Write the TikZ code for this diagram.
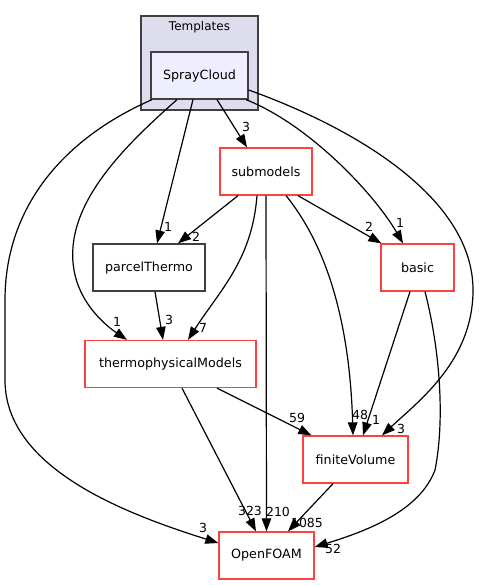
\documentclass[tikz,border=0pt]{standalone}
\usepackage{fontspec}
\setmainfont{DejaVu Sans}
\usetikzlibrary{arrows.meta,calc}
\definecolor{clfill}{HTML}{DDDDEE}
\definecolor{spfill}{HTML}{EEEEFF}
\definecolor{dkgray}{HTML}{404040}
\definecolor{boxred}{HTML}{FF4040}
\tikzset{
  dirbox/.style={draw=boxred, line width=1.3, fill=white, minimum height=47, inner sep=0, font=\fontsize{12.7}{15}\selectfont},
  plainbox/.style={draw=dkgray, line width=1.3, fill=white, minimum height=47, inner sep=0, font=\fontsize{12.7}{15}\selectfont},
  dep/.style={draw=black, line width=1.2, -{Triangle[length=13,width=9.5]}},
  elab/.style={font=\fontsize{12.5}{14}\selectfont, inner sep=0}
}
\begin{document}
\begin{tikzpicture}[x=1pt,y=-1pt]
\useasboundingbox (0,0) rectangle (479,585);
% cluster
\node[draw=dkgray, line width=1.3, fill=clfill, minimum width=117, minimum height=94, inner sep=0] (tmpl) at (199.5,63) {};
\node[font=\fontsize{12}{14}\selectfont] (tmpllab) at (199.5,27) {Templates};
% nodes
\node[draw=dkgray, line width=1.3, fill=spfill, minimum width=97, minimum height=47, inner sep=0, font=\fontsize{12.7}{15}\selectfont] (spray) at (199.5,75.5) {SprayCloud};
\node[dirbox, minimum width=92] (sub) at (266,171.5) {submodels};
\node[plainbox, minimum width=112] (pt) at (149,267.5) {parcelThermo};
\node[dirbox, minimum width=73] (basic) at (417.5,267.5) {basic};
\node[dirbox, minimum width=171] (thermo) at (170.5,364) {thermophysicalModels};
\node[dirbox, minimum width=105] (fv) at (355.5,459.5) {finiteVolume};
\node[dirbox, minimum width=95] (of) at (266.5,555.5) {OpenFOAM};
% edges from SprayCloud
\draw[dep] ($(spray.south)+(17.5,0)$) -- ($(sub.north)+(-19,0)$);
\node[elab] (l1) at (246,127) {3};
\draw[dep] ($(spray.south)+(-6.5,0)$) -- ($(pt.north)+(8,0)$);
\node[elab] (l2) at (168,227) {1};
\draw[dep] ($(spray.south)+(-22.5,0)$) .. controls (120,150) and (60,210) .. (75,275) .. controls (82,305) and (105,325) .. ($(thermo.north)+(-43.5,0)$);
\node[elab] (l3) at (117,322) {1};
\draw[dep] ($(spray.south)+(-47.5,0)$) .. controls (60,140) and (5,210) .. (5,300) -- (5,380) .. controls (5,470) and (130,515) .. ($(of.west)+(0,-12.5)$);
\node[elab] (l4) at (203,528) {3};
\draw[dep] ($(spray.south)+(46.5,0)$) .. controls (310,125) and (375,195) .. ($(basic.north)+(-14.5,0)$);
\node[elab] (l5) at (400,223) {1};
\draw[dep] ($(spray.east)+(0,14.5)$) .. controls (360,130) and (473,200) .. (473,290) .. controls (473,360) and (420,400) .. ($(fv.north)+(26.5,0)$);
\node[elab] (l6) at (401,429) {3};
% edges from submodels
\draw[dep] ($(sub.south)+(-28,0)$) -- ($(pt.north)+(29,0)$);
\node[elab] (l7) at (196,237) {2};
\draw[dep] ($(sub.south)+(32,0)$) -- ($(basic.north west)+(1,0)$);
\node[elab] (l8) at (369,227) {2};
\draw[dep] ($(sub.south)+(-9,0)$) .. controls (252,260) and (220,290) .. ($(thermo.north)+(17.5,0)$);
\node[elab] (l9) at (203,328) {7};
\draw[dep] (sub.south) -- (of.north);
\node[elab] (l10) at (278,512) {210};
\draw[dep] ($(sub.south)+(20,0)$) .. controls (330,250) and (350,330) .. ($(fv.north)+(-2.5,0)$);
\node[elab] (l11) at (360,415) {48};
% parcelThermo
\draw[dep] ($(pt.south)+(6,0)$) -- ($(thermo.north)+(-7.5,0)$);
\node[elab] (l12) at (169,320) {3};
% thermophysicalModels
\draw[dep] ($(thermo.south)+(46.5,0)$) -- ($(fv.north west)+(9,0)$);
\node[elab] (l13) at (297,418) {59};
\draw[dep] ($(thermo.south)+(11.5,0)$) -- ($(of.north)+(-10.5,0)$);
\node[elab] (l14) at (250,511) {323};
% basic
\draw[dep] ($(basic.south)+(-7.5,0)$) -- ($(fv.north)+(7.5,0)$);
\node[elab] (l15) at (376,420) {1};
\draw[dep] ($(basic.south)+(7.5,0)$) .. controls (440,350) and (445,420) .. (435,470) .. controls (420,510) and (370,530) .. ($(of.east)+(0,-8.5)$);
\node[elab] (l16) at (333,549) {52};
% finiteVolume
\draw[dep] ($(fv.south)+(-22.5,0)$) -- ($(of.north)+(21.5,0)$);
\node[elab] (l17) at (307,523) {1085};
\end{tikzpicture}
\end{document}
